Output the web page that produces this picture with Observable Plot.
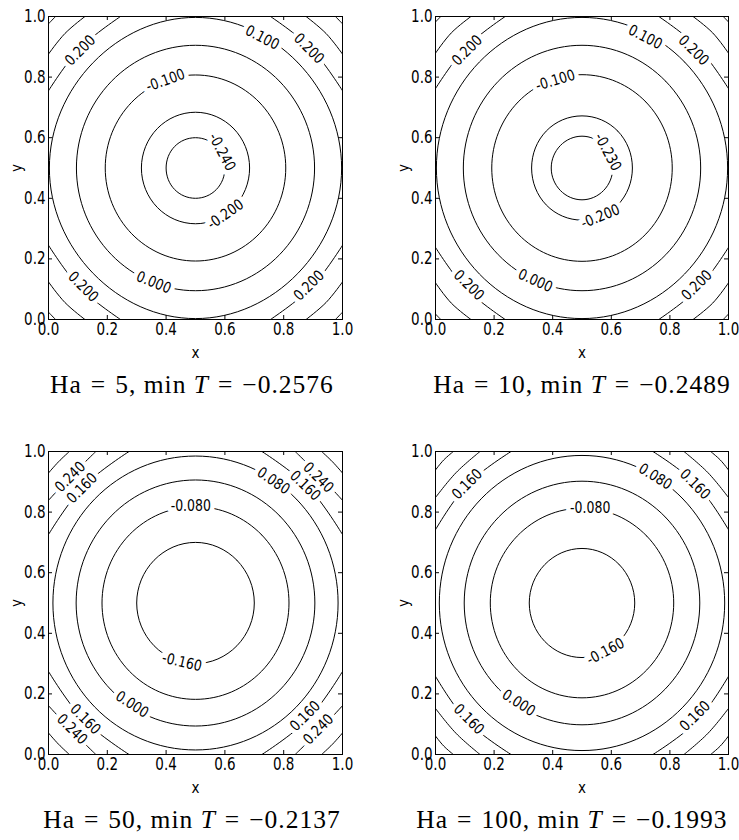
<!DOCTYPE html>
<html>
<head>
<meta charset="utf-8">
<script src="https://cdn.jsdelivr.net/npm/d3@7"></script>
<script src="https://cdn.jsdelivr.net/npm/@observablehq/plot@0.6"></script>
<style>
  html, body { margin: 0; padding: 0; background: #fff; overflow: hidden; }
  #wrap { position: relative; width: 739px; height: 840px; }
  .panel { position: absolute; }
  .cap {
    position: absolute; width: 420px; text-align: center;
    font-family: "Liberation Serif", serif; font-size: 25.5px; line-height: 25px;
    letter-spacing: 1px; word-spacing: 0px; color: #000; white-space: nowrap;
  }
  .cap i { font-style: italic; }
  .cap .op { margin: 0 9px; }
</style>
</head>
<body>
<div id="wrap"></div>
<script>
// ---------------- data ----------------
const panelHa = [5, 10, 50, 100];
const panelMinT = ["−0.2576", "−0.2489", "−0.2137", "−0.1993"];

const tickValues = [0, 0.2, 0.4, 0.6, 0.8, 1.0];

// closed contours: level, radius along the axes, offset along the diagonal (both from the centre)
const ringLevels = [
  [-0.24, -0.20, -0.10, 0.00, 0.10],
  [-0.23, -0.20, -0.10, 0.00, 0.10],
  [-0.16, -0.08, 0.00, 0.08],
  [-0.16, -0.08, 0.00, 0.08]
];
const ringAxis = [
  [0.100, 0.184, 0.307, 0.405, 0.497],
  [0.105, 0.172, 0.308, 0.405, 0.497],
  [0.200, 0.318, 0.406, 0.485],
  [0.180, 0.313, 0.402, 0.487]
];
const ringDiag = [
  [0.071, 0.130, 0.217, 0.286, 0.348],
  [0.074, 0.122, 0.218, 0.286, 0.350],
  [0.141, 0.225, 0.287, 0.343],
  [0.127, 0.221, 0.284, 0.344]
];

// corner contours: level, intercept on the edges and offset along the diagonal (both from the corner)
const cornerLevels = [
  [0.20, 0.30, 0.40],
  [0.20, 0.30, 0.40],
  [0.16, 0.24, 0.32],
  [0.16, 0.24, 0.32]
];
const cornerEdge = [
  [0.245, 0.124, 0.024],
  [0.238, 0.121, 0.018],
  [0.274, 0.161, 0.071],
  [0.258, 0.152, 0.061]
];
const cornerDiag = [
  [0.106, 0.056, 0.012],
  [0.103, 0.054, 0.009],
  [0.117, 0.079, 0.034],
  [0.109, 0.070, 0.028]
];

// inline contour labels: text, x, y, angle
const labels5 = [
  ["0.200", 0.108, 0.888, -45],
  ["-0.100", 0.398, 0.789, -20],
  ["0.100", 0.727, 0.930, 27],
  ["0.200", 0.886, 0.894, 45],
  ["-0.240", 0.590, 0.553, 62],
  ["-0.200", 0.602, 0.347, -35],
  ["0.000", 0.358, 0.122, 22],
  ["0.200", 0.118, 0.108, 45],
  ["0.200", 0.886, 0.112, -45]
];
const labels10 = [
  ["0.200", 0.108, 0.888, -45],
  ["-0.100", 0.409, 0.789, -17],
  ["0.100", 0.716, 0.932, 27],
  ["0.200", 0.881, 0.888, 45],
  ["-0.230", 0.588, 0.553, 62],
  ["-0.200", 0.563, 0.340, -22],
  ["0.000", 0.341, 0.128, 24],
  ["0.200", 0.114, 0.113, 45],
  ["0.200", 0.892, 0.113, -45]
];
const labels50 = [
  ["0.240", 0.074, 0.916, -45],
  ["0.160", 0.114, 0.879, -45],
  ["-0.080", 0.484, 0.818, 0],
  ["0.080", 0.765, 0.903, 34],
  ["0.160", 0.873, 0.887, 44],
  ["0.240", 0.918, 0.914, 45],
  ["-0.160", 0.454, 0.305, 13],
  ["0.000", 0.284, 0.165, 33],
  ["0.160", 0.125, 0.116, 45],
  ["0.240", 0.080, 0.083, 45],
  ["0.160", 0.873, 0.127, -45],
  ["0.240", 0.918, 0.083, -45]
];
const labels100 = [
  ["0.160", 0.108, 0.892, -45],
  ["-0.080", 0.528, 0.813, 0],
  ["0.080", 0.750, 0.917, 32],
  ["0.160", 0.886, 0.892, 45],
  ["-0.160", 0.580, 0.340, -28],
  ["0.000", 0.284, 0.170, 33],
  ["0.160", 0.114, 0.116, 45],
  ["0.160", 0.886, 0.127, -45]
];
const panelLabels = [labels5, labels10, labels50, labels100];

// ---------------- layout ----------------
const layout = [
  {left: 0,   top: 0,   width: 369, mr: 27},
  {left: 387, top: 0,   width: 352, mr: 11},
  {left: 0,   top: 435, width: 369, mr: 27},
  {left: 387, top: 435, width: 352, mr: 11}
];
const capCenter = [192, 582, 192, 572];
const capTop = [372, 372, 807, 807];

function ringPoints(p) {
  const pts = [];
  ringAxis[p].forEach((a, i) => {
    const q = ringDiag[p][i];
    const id = "r" + i;
    [[a,0],[q,q],[0,a],[-q,q],[-a,0],[-q,-q],[0,-a],[q,-q]]
      .forEach(([dx, dy]) => pts.push({id, level: ringLevels[p][i], x: 0.5 + dx, y: 0.5 + dy}));
  });
  return pts;
}
function cornerPoints(p) {
  const pts = [];
  cornerEdge[p].forEach((e, i) => {
    const g = cornerDiag[p][i];
    [[0,0],[1,0],[0,1],[1,1]].forEach(([cx, cy], k) => {
      const sx = cx ? -1 : 1, sy = cy ? -1 : 1;
      const id = "c" + i + "-" + k;
      [[0,e],[g,g],[e,0]].forEach(([dx, dy]) =>
        pts.push({id, level: cornerLevels[p][i], x: cx + sx * dx, y: cy + sy * dy}));
    });
  });
  return pts;
}

// stretch text glyphs vertically (the reference's type is taller than it is wide)
function stretch(nodes, k) {
  nodes.forEach(n => {
    const t = n.getAttribute("transform");
    if (t && t.includes("translate")) n.setAttribute("transform", t + ` scale(1,${k})`);
  });
}

const wrap = document.getElementById("wrap");
const fmt = d3.format(".1f");
const H = 370, MT = 16, MB = 51, ML = 48;

layout.forEach((L, p) => {
  const plotW = L.width - ML - L.mr;
  const plotH = H - MT - MB;
  const labs = panelLabels[p];
  const chart = Plot.plot({
    width: L.width, height: H,
    marginLeft: ML, marginRight: L.mr, marginTop: MT, marginBottom: MB,
    x: {domain: [0, 1]},
    y: {domain: [0, 1]},
    style: {fontFamily: "DejaVu Sans", fontSize: "13.5px", color: "black", background: "white", overflow: "visible"},
    marks: [
      Plot.line(ringPoints(p), {x: "x", y: "y", z: "id", curve: "cardinal-closed", tension: -0.125,
        stroke: "black", strokeWidth: 1, clip: true}),
      Plot.line(cornerPoints(p), {x: "x", y: "y", z: "id", curve: "cardinal", tension: -0.125,
        stroke: "black", strokeWidth: 1, clip: true}),
      Plot.text(labs, {x: d => d[1], y: d => d[2], text: d => d[0], rotate: d => d[3],
        fontFamily: "DejaVu Sans", fontSize: 12.5, fill: "white", stroke: "white", strokeWidth: 9, strokeLinejoin: "round"}),
      Plot.text(labs, {x: d => d[1], y: d => d[2], text: d => d[0], rotate: d => d[3],
        fontFamily: "DejaVu Sans", fontSize: 12.5, fill: "black"}),
      Plot.frame({stroke: "black", strokeWidth: 1}),
      Plot.tickX(tickValues, {x: d => d, insetTop: plotH - 4, stroke: "black"}),
      Plot.tickX(tickValues, {x: d => d, insetBottom: plotH - 4, stroke: "black"}),
      Plot.tickY(tickValues, {y: d => d, insetRight: plotW - 4, stroke: "black"}),
      Plot.tickY(tickValues, {y: d => d, insetLeft: plotW - 4, stroke: "black"}),
      Plot.axisX(tickValues, {anchor: "bottom", tickSize: 0, tickPadding: 4, tickFormat: fmt,
        label: "x", labelAnchor: "center", labelOffset: 38, labelArrow: "none"}),
      Plot.axisY(tickValues, {anchor: "left", tickSize: 0, tickPadding: 3, tickFormat: fmt,
        label: "y", labelAnchor: "center", labelOffset: 38, labelArrow: "none"})
    ]
  });
  stretch(chart.querySelectorAll('g[aria-label="x-axis tick label"] text, g[aria-label="y-axis tick label"] text'), 1.25);
  stretch(chart.querySelectorAll('g[aria-label="x-axis label"] text, g[aria-label="y-axis label"] text'), 1.15);
  stretch(chart.querySelectorAll('g[aria-label="text"] text'), 1.2);
  chart.classList.add("panel");
  chart.style.left = L.left + "px";
  chart.style.top = L.top + "px";
  chart.style.position = "absolute";
  wrap.appendChild(chart);

  const cap = document.createElement("div");
  cap.className = "cap";
  cap.style.left = (capCenter[p] - 210) + "px";
  cap.style.top = capTop[p] + "px";
  cap.innerHTML = 'Ha<span class="op">=</span>' + panelHa[p] +
    ', min <i>T</i><span class="op">=</span>' + panelMinT[p];
  wrap.appendChild(cap);
});
</script>
</body>
</html>
